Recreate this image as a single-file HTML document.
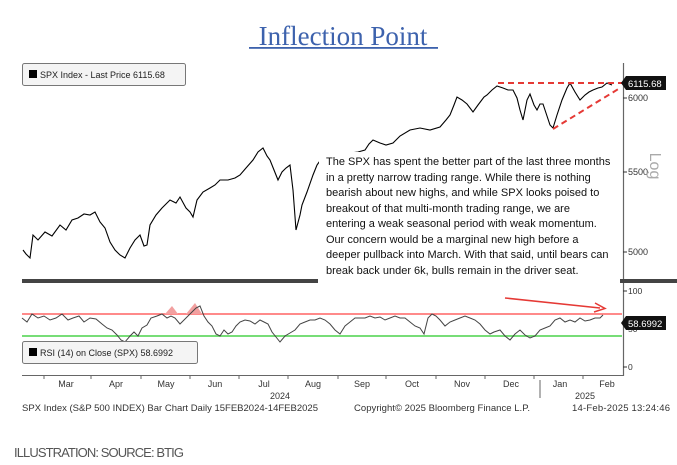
<!DOCTYPE html>
<html><head><meta charset="utf-8"><style>
body{margin:0;background:#fff;width:677px;height:465px;overflow:hidden;}
svg{display:block}
</style></head><body>
<svg width="677" height="465" viewBox="0 0 677 465" font-family="Liberation Sans, sans-serif">
<text x="343" y="45" text-anchor="middle" font-family="Liberation Serif, serif" font-size="27" fill="#3d62ad">Inflection Point</text>
<rect x="249" y="47" width="189" height="1.8" fill="#3d62ad"/>
<!-- legend -->
<rect x="22.5" y="63.5" width="163" height="22" rx="2" fill="#f4f4f4" stroke="#777"/>
<rect x="29" y="70" width="8" height="8" fill="#000"/>
<text x="40" y="78" font-size="9" fill="#222">SPX Index - Last Price 6115.68</text>
<!-- price series -->
<polyline fill="none" stroke="#000" stroke-width="1.1" points="23,250 26,254 30,258 33,235 38,240 45,232 52,236 60,225 66,230 72,220 78,218 84,214 90,215 95,212 100,222 105,228 110,242 115,250 120,255 125,258 130,248 135,240 140,235 144,246 147,245 150,225 156,215 162,208 170,200 176,203 180,197 186,208 190,212 193,217 197,200 203,192 210,188 215,185 220,180 228,180 235,178 240,175 246,168 253,160 258,152 263,148 267,156 270,160 274,170 278,180 282,172 286,168 290,165 293,190 296,230 300,215 302,205 307,192 313,175 317,165 322,158 330,162 340,157 350,153 358,152 365,150 369,144 373,140 380,143 386,145 393,143 400,136 410,130 420,128 430,130 440,127 446,120 450,115 454,105 457,97 462,100 467,104 473,112 478,105 484,97 487,95 492,90 497,86 503,88 508,90 513,90 517,98 520,110 523,120 527,100 530,94 534,105 537,110 540,104 543,104 547,116 550,125 553,128 557,115 562,100 567,88 570,83 575,92 580,100 585,95 589,92 593,90 598,88 602,87 607,83 612,85"/>
<rect x="319" y="152" width="300" height="127" fill="#fff"/>
<!-- trend lines -->
<line x1="498" y1="83" x2="622" y2="83" stroke="#e53935" stroke-width="2" stroke-dasharray="6,4"/>
<line x1="553" y1="129" x2="620" y2="88" stroke="#e53935" stroke-width="2" stroke-dasharray="6,4"/>
<!-- price axis -->
<line x1="623.5" y1="63" x2="623.5" y2="280" stroke="#666" stroke-width="1.2"/>
<line x1="623" y1="98" x2="627" y2="98" stroke="#333"/>
<line x1="623" y1="172" x2="627" y2="172" stroke="#333"/>
<line x1="623" y1="252" x2="627" y2="252" stroke="#333"/>
<text x="628" y="101" font-size="9" fill="#333">6000</text>
<text x="628" y="175" font-size="9" fill="#333">5500</text>
<text x="628" y="255" font-size="9" fill="#333">5000</text>
<text x="650" y="166" font-size="16" fill="#aaa" transform="rotate(90 650 166)" text-anchor="middle">Log</text>
<path d="M621,83 L626,76 L666,76 L666,90 L626,90 Z" fill="#111"/>
<text x="628" y="87" font-size="9.5" fill="#fff">6115.68</text>
<!-- text box -->
<g font-size="11" fill="#111">
<text x="326" y="165">The SPX has spent the better part of the last three months</text>
<text x="326" y="181">in a pretty narrow trading range. While there is nothing</text>
<text x="326" y="196">bearish about new highs, and while SPX looks poised to</text>
<text x="326" y="212">breakout of that multi-month trading range, we are</text>
<text x="326" y="227">entering a weak seasonal period with weak momentum.</text>
<text x="326" y="243">Our concern would be a marginal new high before a</text>
<text x="326" y="258">deeper pullback into March. With that said, until bears can</text>
<text x="326" y="274">break back under 6k, bulls remain in the driver seat.</text>
</g>
<!-- separator -->
<rect x="22" y="279" width="296" height="4" fill="#444"/>
<rect x="620" y="279" width="57" height="4" fill="#444"/>
<!-- RSI panel -->
<line x1="22" y1="314" x2="622" y2="314" stroke="#f44" stroke-width="1.2"/>
<line x1="22" y1="336" x2="622" y2="336" stroke="#7d7" stroke-width="2"/>
<path d="M165,314 L172,306 L178,314 Z M186,314 L195,303 L202,314 Z" fill="#f2a0a0"/>
<polyline fill="none" stroke="#444" stroke-width="1" points="22,318 27,322 32,314 38,318 44,316 50,320 56,318 62,314 68,320 73,318 79,316 84,322 90,318 96,319 102,324 107,328 112,330 117,335 121,340 125,342 130,336 134,332 138,336 142,328 147,325 151,318 157,316 162,314 167,318 171,316 175,318 180,324 184,320 188,316 192,312 196,308 200,306 204,316 208,322 212,326 216,334 220,336 224,330 228,334 232,332 236,326 240,322 245,320 250,321 255,324 260,320 264,322 268,324 272,332 276,337 280,342 285,336 290,333 295,330 300,324 305,322 310,320 315,320 320,318 325,320 330,324 335,330 340,334 345,326 350,322 355,318 360,318 365,318 370,316 375,318 380,317 385,320 390,318 395,316 400,318 405,318 410,322 415,326 420,328 424,334 428,318 432,314 436,316 440,320 445,326 450,322 455,320 460,318 465,316 470,318 475,320 480,324 485,330 490,334 494,332 500,330 505,336 510,340 515,334 520,330 525,335 530,338 535,336 540,330 545,328 550,326 555,320 560,318 565,322 570,320 575,322 580,318 585,321 590,320 595,318 600,318 603,315"/>
<line x1="505" y1="298" x2="600" y2="308" stroke="#e53935" stroke-width="1.5"/>
<path d="M595,303 L605,308.5 L594,312" fill="none" stroke="#e53935" stroke-width="1.5"/>
<rect x="22.5" y="341.5" width="175" height="22" rx="2" fill="#f4f4f4" stroke="#777"/>
<rect x="29" y="348" width="8" height="8" fill="#000"/>
<text x="40" y="356" font-size="9" fill="#222">RSI (14)  on Close (SPX) 58.6992</text>
<line x1="623.5" y1="283" x2="623.5" y2="376" stroke="#666" stroke-width="1.2"/>
<line x1="623" y1="291" x2="627" y2="291" stroke="#333"/>
<line x1="623" y1="367" x2="627" y2="367" stroke="#333"/>
<text x="628" y="294" font-size="8.5" fill="#333">100</text>
<text x="628" y="332" font-size="8.5" fill="#333">50</text>
<text x="628" y="370" font-size="8.5" fill="#333">0</text>
<path d="M621,323 L626,316 L666,316 L666,330 L626,330 Z" fill="#111"/>
<text x="628" y="327" font-size="9.5" fill="#fff">58.6992</text>
<!-- x axis -->
<line x1="22" y1="375.5" x2="623" y2="375.5" stroke="#666"/>
<g stroke="#666">
<line x1="44" y1="375" x2="44" y2="379"/><line x1="91" y1="375" x2="91" y2="379"/><line x1="141" y1="375" x2="141" y2="379"/><line x1="190" y1="375" x2="190" y2="379"/><line x1="239" y1="375" x2="239" y2="379"/><line x1="288" y1="375" x2="288" y2="379"/><line x1="338" y1="375" x2="338" y2="379"/><line x1="386" y1="375" x2="386" y2="379"/><line x1="436" y1="375" x2="436" y2="379"/><line x1="485" y1="375" x2="485" y2="379"/><line x1="534" y1="375" x2="534" y2="379"/><line x1="583" y1="375" x2="583" y2="379"/>
<line x1="540" y1="380" x2="540" y2="398"/>
</g>
<g font-size="9" fill="#333" text-anchor="middle">
<text x="66" y="387">Mar</text><text x="116" y="387">Apr</text><text x="166" y="387">May</text><text x="215" y="387">Jun</text><text x="264" y="387">Jul</text><text x="313" y="387">Aug</text><text x="362" y="387">Sep</text><text x="412" y="387">Oct</text><text x="462" y="387">Nov</text><text x="511" y="387">Dec</text><text x="560" y="387">Jan</text><text x="607" y="387">Feb</text>
<text x="280" y="399">2024</text><text x="585" y="399">2025</text>
</g>
<g font-size="9.5" fill="#333">
<text x="22" y="411" textLength="296">SPX Index (S&amp;P 500 INDEX) Bar Chart  Daily 15FEB2024-14FEB2025</text>
<text x="354" y="411" textLength="176">Copyright© 2025 Bloomberg Finance L.P.</text>
<text x="572" y="411" textLength="98">14-Feb-2025 13:24:46</text>
</g>
<text x="14" y="457" font-size="13" fill="#555" textLength="170">ILLUSTRATION: SOURCE: BTIG</text>
</svg>
</body></html>
